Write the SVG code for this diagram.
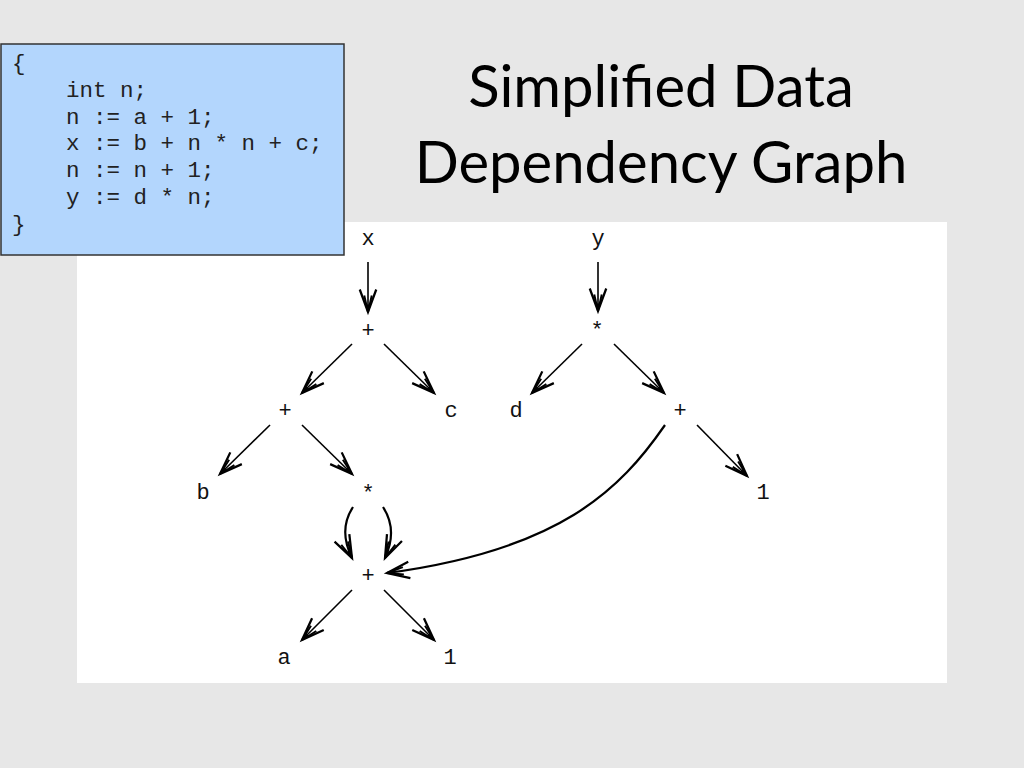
<svg xmlns="http://www.w3.org/2000/svg" width="1024" height="768" viewBox="0 0 1024 768">
<style>
.code{font-family:"Liberation Mono",monospace;font-size:22.5px;fill:#222}
.title{font-family:Lato,"Liberation Sans",sans-serif;font-size:58px;fill:#000;text-anchor:middle}
.lbl{font-family:"Liberation Mono",monospace;font-size:22px;fill:#111;text-anchor:middle}
.e{fill:none;stroke:#000;stroke-width:1.6}
.c{fill:none;stroke:#000;stroke-width:2.2}
</style>
<defs>
<marker id="ah" markerUnits="userSpaceOnUse" markerWidth="30" markerHeight="30" refX="0" refY="0" viewBox="-16 -8 20 16" orient="auto" overflow="visible">
<path d="M-15,-5.5 L0,0 L-15,5.5" fill="none" stroke="#000" stroke-width="1.5"/>
<path d="M-11,-2.5 L0,0 L-11,2.5" fill="none" stroke="#000" stroke-width="1.3"/>
<path d="M-5,-1.5 L0,0 L-5,1.5 Z" fill="#000"/>
</marker>
</defs>
<rect width="1024" height="768" fill="#e7e7e7"/>
<rect x="77" y="222" width="870" height="461" fill="#fff"/>
<g id="code">
<rect x="1" y="44" width="343" height="211" fill="#b3d6fd" stroke="#333" stroke-width="1.5"/>
<text class="code" x="12" y="70">{</text>
<text class="code" x="66" y="97">int n;</text>
<text class="code" x="66" y="124">n := a + 1;</text>
<text class="code" x="66" y="150">x := b + n * n + c;</text>
<text class="code" x="66" y="177">n := n + 1;</text>
<text class="code" x="66" y="204">y := d * n;</text>
<text class="code" x="12" y="231">}</text>
</g>
<g id="title">
<text class="title" x="661" y="107">Simplified Data</text>
<text class="title" x="661" y="183">Dependency Graph</text>
</g>
<g id="connectors">
<path class="e" d="M368,262 L368,312" marker-end="url(#ah)"/>
<path class="e" d="M598,262 L598,311" marker-end="url(#ah)"/>
<path class="e" d="M352,344 L302,393" marker-end="url(#ah)"/>
<path class="e" d="M384,344 L434,393" marker-end="url(#ah)"/>
<path class="e" d="M582,344 L532,393" marker-end="url(#ah)"/>
<path class="e" d="M614,344 L664,393" marker-end="url(#ah)"/>
<path class="e" d="M270,425 L220,474" marker-end="url(#ah)"/>
<path class="e" d="M302,425 L352,474" marker-end="url(#ah)"/>
<path class="e" d="M697,425 L747,476" marker-end="url(#ah)"/>
<path class="c" d="M665,425 C620,490 560,550 387,573" marker-end="url(#ah)"/>
<path class="c" d="M353,507 Q338,530 352,558" marker-end="url(#ah)"/>
<path class="c" d="M383,507 Q398,530 385,558" marker-end="url(#ah)"/>
<path class="e" d="M352,590 L302,640" marker-end="url(#ah)"/>
<path class="e" d="M384,590 L434,640" marker-end="url(#ah)"/>
</g>
<g id="n-x"><text class="lbl" x="368" y="245">x</text></g>
<g id="n-y"><text class="lbl" x="598" y="245">y</text></g>
<g id="n-plus1"><text class="lbl" x="368" y="337">+</text></g>
<g id="n-mul1"><text class="lbl" x="597" y="337">*</text></g>
<g id="n-plus2"><text class="lbl" x="285" y="417">+</text></g>
<g id="n-c"><text class="lbl" x="451" y="417">c</text></g>
<g id="n-d"><text class="lbl" x="516" y="417">d</text></g>
<g id="n-plus3"><text class="lbl" x="680" y="417">+</text></g>
<g id="n-b"><text class="lbl" x="203" y="499">b</text></g>
<g id="n-mul2"><text class="lbl" x="368" y="500">*</text></g>
<g id="n-one1"><text class="lbl" x="763" y="499">1</text></g>
<g id="n-plus4"><text class="lbl" x="368" y="582">+</text></g>
<g id="n-a"><text class="lbl" x="284" y="664">a</text></g>
<g id="n-one2"><text class="lbl" x="450" y="664">1</text></g>
</svg>
